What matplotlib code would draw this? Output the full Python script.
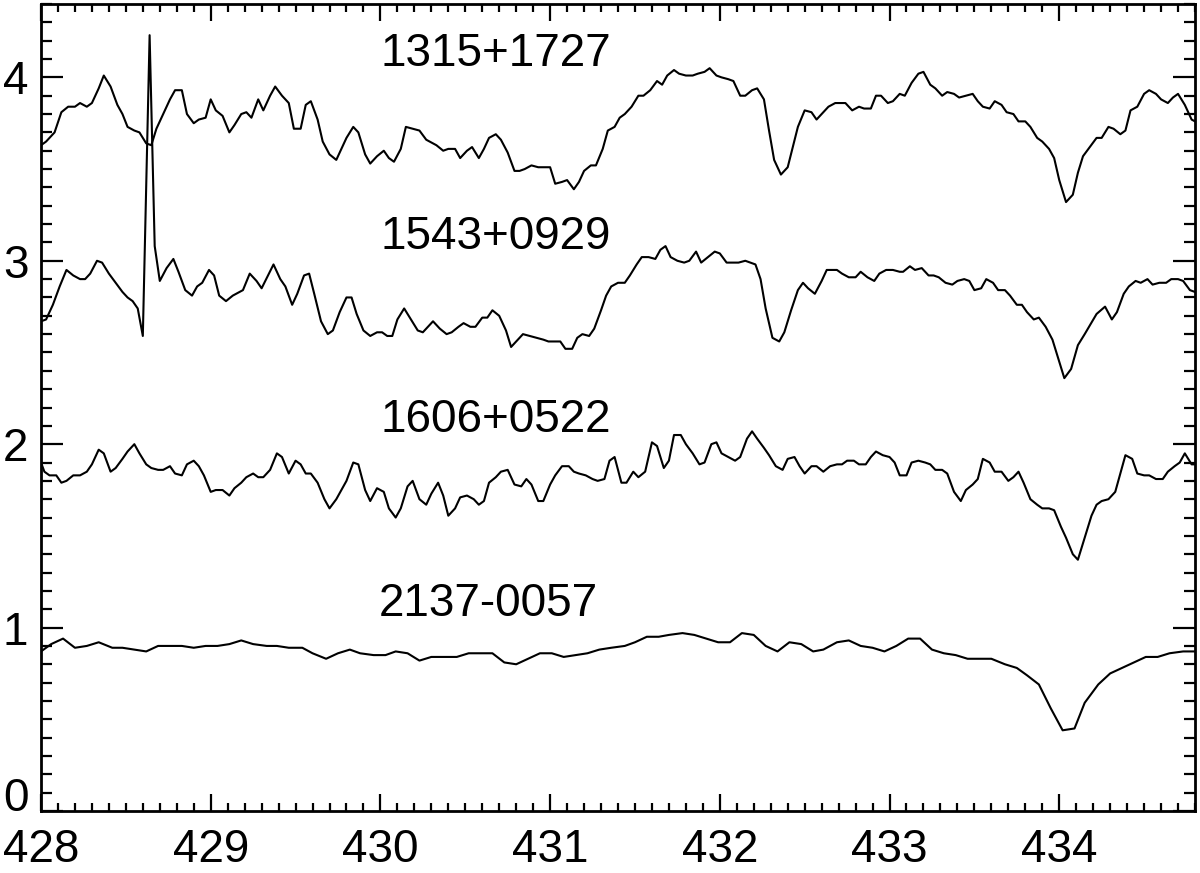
import numpy as np
import matplotlib
matplotlib.use("Agg")
import matplotlib.pyplot as plt
from matplotlib.ticker import MultipleLocator, FuncFormatter

plt.rcParams['font.family'] = ['Liberation Sans', 'DejaVu Sans']

# star names, label anchor (wavelength, flux)
names = ["1315+1727", "1543+0929", "1606+0522", "2137-0057"]
label_x = [430.0, 430.0, 430.0, 429.99]
label_y = [4.13, 3.13, 2.13, 1.13]

# 1315+1727 (offset +3)
wave_1315 = [
    428.00, 428.03, 428.08, 428.12, 428.16, 428.20, 428.23, 428.27, 428.30, 428.34,
    428.37, 428.41, 428.45, 428.48, 428.51, 428.55, 428.58, 428.62, 428.65, 428.68,
    428.72, 428.76, 428.79, 428.83, 428.86, 428.90, 428.93, 428.97, 429.00, 429.03,
    429.07, 429.11, 429.14, 429.18, 429.21, 429.24, 429.28, 429.31, 429.35, 429.38,
    429.42, 429.46, 429.49, 429.53, 429.56, 429.59, 429.63, 429.66, 429.70, 429.74,
    429.77, 429.80, 429.84, 429.87, 429.91, 429.94, 429.98, 430.02, 430.05, 430.08,
    430.12, 430.15, 430.19, 430.23, 430.27,
    430.33, 430.37, 430.40, 430.44, 430.47, 430.51, 430.54, 430.58, 430.61, 430.64,
    430.68, 430.71, 430.75, 430.79, 430.82, 430.85, 430.89, 430.93, 430.96, 431.00,
    431.03, 431.07, 431.10, 431.14, 431.17, 431.20, 431.24, 431.27, 431.31, 431.34,
    431.38, 431.41, 431.44, 431.48, 431.52, 431.55, 431.59, 431.63, 431.66, 431.69,
    431.73, 431.76, 431.80, 431.84, 431.87, 431.91, 431.94, 431.98, 432.01, 432.05,
    432.08, 432.12, 432.15, 432.19, 432.22, 432.26, 432.29, 432.32, 432.36, 432.40,
    432.43, 432.46, 432.50, 432.54,
    432.57, 432.61, 432.64, 432.68, 432.72, 432.74, 432.78, 432.82, 432.85, 432.89,
    432.92, 432.95, 432.99, 433.02, 433.06, 433.09, 433.13, 433.17, 433.20, 433.24,
    433.27, 433.31, 433.34, 433.38, 433.41, 433.45, 433.49, 433.52, 433.55, 433.59,
    433.62, 433.66, 433.69, 433.73, 433.76, 433.80, 433.83, 433.87, 433.90, 433.94,
    433.97, 434.00, 434.04, 434.08, 434.11, 434.14, 434.18, 434.22, 434.25, 434.29,
    434.32, 434.36, 434.39, 434.42, 434.46, 434.50, 434.53, 434.57, 434.60, 434.64,
    434.67, 434.70, 434.74, 434.78, 434.80]
flux_1315 = [
    3.63, 3.65, 3.70, 3.81, 3.84, 3.84, 3.86, 3.84, 3.86, 3.94,
    4.01, 3.95, 3.85, 3.80, 3.73, 3.71, 3.70, 3.64, 3.63, 3.72,
    3.80, 3.88, 3.93, 3.93, 3.80, 3.75, 3.77, 3.78, 3.88, 3.82,
    3.79, 3.70, 3.74, 3.80, 3.81, 3.78, 3.88, 3.82, 3.90, 3.95,
    3.90, 3.86, 3.72, 3.72, 3.85, 3.87, 3.77, 3.65, 3.58, 3.55,
    3.61, 3.67, 3.73, 3.70, 3.58, 3.53, 3.57, 3.60, 3.56, 3.54,
    3.61, 3.73, 3.72, 3.71, 3.66,
    3.63, 3.60, 3.61, 3.61, 3.56, 3.60, 3.62, 3.56, 3.61, 3.67,
    3.69, 3.66, 3.59, 3.49, 3.49, 3.50, 3.52, 3.51, 3.51, 3.51,
    3.42, 3.43, 3.44, 3.39, 3.43, 3.49, 3.52, 3.52, 3.61, 3.71,
    3.73, 3.78, 3.80, 3.84, 3.90, 3.90, 3.93, 3.98, 3.96, 4.01,
    4.04, 4.02, 4.01, 4.01, 4.02, 4.03, 4.05, 4.01, 4.00, 3.99,
    3.98, 3.90, 3.90, 3.93, 3.94, 3.88, 3.71, 3.55, 3.47, 3.51,
    3.62, 3.73, 3.82, 3.81,
    3.77, 3.81, 3.84, 3.86, 3.86, 3.86, 3.82, 3.84, 3.83, 3.83,
    3.90, 3.90, 3.86, 3.87, 3.91, 3.90, 3.97, 4.02, 4.03, 3.96,
    3.94, 3.90, 3.92, 3.91, 3.89, 3.90, 3.91, 3.87, 3.84, 3.83,
    3.87, 3.85, 3.81, 3.80, 3.76, 3.76, 3.73, 3.67, 3.65, 3.61,
    3.56, 3.44, 3.32, 3.36, 3.48, 3.57, 3.62, 3.67, 3.67, 3.73,
    3.72, 3.69, 3.71, 3.82, 3.84, 3.91, 3.93, 3.91, 3.88, 3.86,
    3.89, 3.91, 3.85, 3.77, 3.76]

# 1543+0929 (offset +2), with a cosmic-ray spike near 428.64
wave_1543 = [
    428.00, 428.03, 428.07, 428.11, 428.15, 428.19, 428.23, 428.26, 428.29, 428.33,
    428.36, 428.40, 428.44, 428.48, 428.51, 428.54, 428.57, 428.60, 428.64, 428.67,
    428.70, 428.74, 428.78, 428.81, 428.85, 428.89, 428.92, 428.95, 428.99, 429.02,
    429.05, 429.09, 429.13, 429.19, 429.23, 429.27, 429.30, 429.37, 429.41, 429.44,
    429.48, 429.51, 429.55, 429.58, 429.61, 429.65, 429.69, 429.72, 429.76, 429.80,
    429.83, 429.86, 429.90, 429.94, 429.98, 430.01, 430.04, 430.07, 430.10, 430.14,
    430.18, 430.22, 430.25,
    430.31, 430.35, 430.39, 430.42, 430.46, 430.49, 430.53, 430.56, 430.60, 430.63,
    430.66, 430.70, 430.74, 430.77, 430.81, 430.84, 430.88, 430.92, 430.96, 430.99,
    431.03, 431.06, 431.09, 431.13, 431.16, 431.19, 431.23, 431.26, 431.30, 431.33,
    431.36, 431.40, 431.44, 431.47, 431.51, 431.54, 431.58, 431.62, 431.65, 431.68,
    431.71, 431.75, 431.79, 431.82, 431.86, 431.89, 431.93, 431.97, 432.00, 432.04,
    432.07, 432.11, 432.15, 432.18, 432.21, 432.24, 432.27, 432.31, 432.35, 432.38,
    432.42, 432.46, 432.49, 432.52,
    432.56, 432.60, 432.63, 432.67, 432.69, 432.72, 432.76, 432.80, 432.83, 432.87,
    432.91, 432.94, 432.98, 433.02, 433.06, 433.08, 433.12, 433.15, 433.19, 433.23,
    433.26, 433.29, 433.33, 433.37, 433.40, 433.44, 433.47, 433.50, 433.54, 433.57,
    433.61, 433.64, 433.68, 433.71, 433.75, 433.78, 433.81, 433.85, 433.88, 433.92,
    433.96, 434.03, 434.07, 434.11, 434.15, 434.22, 434.27, 434.31, 434.34, 434.38,
    434.41, 434.45, 434.48, 434.52, 434.55, 434.59, 434.63, 434.66, 434.70, 434.73,
    434.77, 434.80]
flux_1543 = [
    2.67, 2.68, 2.76, 2.86, 2.95, 2.92, 2.90, 2.90, 2.93, 3.00,
    2.99, 2.93, 2.88, 2.83, 2.80, 2.78, 2.74, 2.59, 4.23, 3.08,
    2.89, 2.96, 3.01, 2.94, 2.84, 2.81, 2.86, 2.88, 2.95, 2.92,
    2.81, 2.78, 2.81, 2.84, 2.93, 2.89, 2.85, 2.98, 2.90, 2.86,
    2.76, 2.82, 2.92, 2.93, 2.82, 2.67, 2.60, 2.62, 2.72, 2.80,
    2.80, 2.71, 2.62, 2.59, 2.61, 2.61, 2.59, 2.59, 2.68, 2.74,
    2.68, 2.62, 2.61,
    2.67, 2.63, 2.60, 2.61, 2.64, 2.66, 2.64, 2.64, 2.69, 2.69,
    2.73, 2.70, 2.62, 2.53, 2.57, 2.60, 2.59, 2.58, 2.57, 2.56,
    2.56, 2.56, 2.52, 2.52, 2.58, 2.60, 2.59, 2.63, 2.73, 2.81,
    2.86, 2.88, 2.88, 2.92, 2.98, 3.02, 3.02, 3.01, 3.06, 3.08,
    3.02, 3.00, 2.99, 3.00, 3.05, 2.99, 3.02, 3.05, 3.04, 2.99,
    2.99, 2.99, 3.00, 2.99, 2.98, 2.90, 2.74, 2.58, 2.56, 2.61,
    2.73, 2.84, 2.88, 2.85,
    2.82, 2.89, 2.95, 2.95, 2.95, 2.93, 2.91, 2.91, 2.94, 2.91,
    2.89, 2.93, 2.95, 2.95, 2.94, 2.94, 2.97, 2.95, 2.96, 2.92,
    2.92, 2.91, 2.88, 2.87, 2.89, 2.90, 2.89, 2.84, 2.85, 2.90,
    2.88, 2.84, 2.84, 2.81, 2.76, 2.76, 2.72, 2.68, 2.69, 2.64,
    2.57, 2.36, 2.41, 2.54, 2.60, 2.71, 2.75, 2.68, 2.72, 2.82,
    2.86, 2.89, 2.88, 2.90, 2.87, 2.88, 2.88, 2.90, 2.90, 2.89,
    2.84, 2.83]

# 1606+0522 (offset +1)
wave_1606 = [
    428.00, 428.02, 428.05, 428.09, 428.12, 428.15, 428.19, 428.23, 428.27, 428.30,
    428.34, 428.37, 428.41, 428.44, 428.48, 428.51, 428.55, 428.58, 428.62, 428.65,
    428.69, 428.72, 428.76, 428.79, 428.83, 428.86, 428.90, 428.93, 428.96, 429.00,
    429.03, 429.07, 429.11, 429.14, 429.18, 429.21, 429.25, 429.28, 429.31, 429.35,
    429.39, 429.42, 429.46, 429.50, 429.53, 429.56, 429.59, 429.63, 429.67, 429.70,
    429.74, 429.77, 429.80, 429.84, 429.87, 429.91, 429.94, 429.98, 430.02, 430.05,
    430.09, 430.12, 430.16, 430.19, 430.23, 430.27,
    430.30, 430.34, 430.37, 430.40, 430.44, 430.47, 430.51, 430.55, 430.58, 430.61,
    430.64, 430.68, 430.71, 430.75, 430.79, 430.83, 430.86, 430.89, 430.93, 430.96,
    431.00, 431.03, 431.07, 431.11, 431.14, 431.17, 431.21, 431.25, 431.28, 431.32,
    431.35, 431.38, 431.42, 431.45, 431.49, 431.52, 431.56, 431.60, 431.63, 431.67,
    431.70, 431.73, 431.77, 431.80, 431.84, 431.88, 431.91, 431.95, 431.98, 432.01,
    432.05, 432.09, 432.12, 432.16, 432.19, 432.22, 432.26, 432.29, 432.33, 432.37,
    432.40, 432.44, 432.47, 432.50, 432.54,
    432.57, 432.61, 432.65, 432.69, 432.72, 432.75, 432.79, 432.82, 432.86, 432.89,
    432.92, 432.96, 433.00, 433.03, 433.06, 433.10, 433.13, 433.17, 433.21, 433.24,
    433.27, 433.31, 433.34, 433.38, 433.42, 433.45, 433.49, 433.52, 433.55, 433.59,
    433.62, 433.66, 433.70, 433.73, 433.76, 433.79, 433.83, 433.87, 433.90, 433.94,
    433.97, 434.01, 434.04, 434.08, 434.11, 434.15, 434.19, 434.22, 434.25, 434.29,
    434.33, 434.36, 434.39, 434.43, 434.46, 434.50, 434.53, 434.57, 434.61, 434.64,
    434.68, 434.71, 434.74, 434.78, 434.80]
flux_1606 = [
    1.90, 1.85, 1.83, 1.83, 1.79, 1.80, 1.83, 1.83, 1.85, 1.89,
    1.97, 1.95, 1.85, 1.87, 1.92, 1.96, 2.00, 1.95, 1.89, 1.87,
    1.86, 1.86, 1.88, 1.84, 1.83, 1.89, 1.91, 1.88, 1.83, 1.74,
    1.75, 1.75, 1.72, 1.76, 1.79, 1.82, 1.84, 1.82, 1.82, 1.86,
    1.95, 1.93, 1.84, 1.91, 1.89, 1.84, 1.84, 1.79, 1.70, 1.65,
    1.70, 1.75, 1.80, 1.90, 1.89, 1.75, 1.69, 1.76, 1.74, 1.65,
    1.60, 1.65, 1.77, 1.80, 1.70, 1.67,
    1.73, 1.79, 1.72, 1.61, 1.65, 1.71, 1.72, 1.70, 1.67, 1.69,
    1.79, 1.82, 1.85, 1.86, 1.78, 1.77, 1.81, 1.78, 1.69, 1.69,
    1.78, 1.83, 1.88, 1.88, 1.85, 1.84, 1.83, 1.81, 1.80, 1.81,
    1.91, 1.93, 1.79, 1.79, 1.85, 1.82, 1.85, 2.01, 1.99, 1.87,
    1.91, 2.05, 2.05, 2.00, 1.95, 1.89, 1.90, 2.00, 2.01, 1.95,
    1.93, 1.91, 1.93, 2.03, 2.07, 2.03, 1.98, 1.94, 1.88, 1.86,
    1.92, 1.93, 1.88, 1.84, 1.88,
    1.88, 1.85, 1.88, 1.89, 1.89, 1.91, 1.91, 1.89, 1.89, 1.93,
    1.96, 1.94, 1.93, 1.90, 1.83, 1.83, 1.90, 1.91, 1.90, 1.89,
    1.86, 1.86, 1.84, 1.74, 1.69, 1.75, 1.78, 1.81, 1.92, 1.90,
    1.85, 1.85, 1.80, 1.82, 1.85, 1.79, 1.70, 1.67, 1.65, 1.65,
    1.64, 1.55, 1.49, 1.40, 1.37, 1.49, 1.61, 1.67, 1.69, 1.70,
    1.74, 1.84, 1.94, 1.92, 1.84, 1.83, 1.83, 1.81, 1.81, 1.85,
    1.88, 1.90, 1.95, 1.89, 1.89]

# 2137-0057 (no offset)
wave_2137 = [
    428.00, 428.06, 428.13, 428.20, 428.27, 428.34, 428.42, 428.48, 428.55, 428.62,
    428.69, 428.76, 428.83, 428.90, 428.97, 429.04, 429.11, 429.18, 429.25, 429.33,
    429.39, 429.46, 429.54, 429.60, 429.68, 429.75, 429.82, 429.88, 429.96, 430.03,
    430.09, 430.16, 430.23,
    430.30, 430.37, 430.45, 430.52, 430.59, 430.66, 430.73, 430.80, 430.87, 430.94,
    431.01, 431.08, 431.15, 431.22, 431.29, 431.36, 431.44, 431.50, 431.57, 431.64,
    431.70, 431.78, 431.85, 431.92, 431.99, 432.06, 432.13, 432.20, 432.27, 432.34,
    432.41, 432.48, 432.55,
    432.61, 432.69, 432.76, 432.83, 432.90, 432.97, 433.04, 433.11, 433.18, 433.25,
    433.32, 433.39, 433.46, 433.53, 433.60, 433.68, 433.75, 433.81, 433.88, 433.95,
    434.02, 434.09, 434.15, 434.23, 434.30, 434.37, 434.44, 434.51, 434.58, 434.65,
    434.73, 434.80]
flux_2137 = [
    0.87, 0.91, 0.94, 0.89, 0.90, 0.92, 0.89, 0.89, 0.88, 0.87,
    0.90, 0.90, 0.90, 0.89, 0.90, 0.90, 0.91, 0.93, 0.91, 0.90,
    0.90, 0.89, 0.89, 0.86, 0.83, 0.86, 0.88, 0.86, 0.85, 0.85,
    0.87, 0.86, 0.82,
    0.84, 0.84, 0.84, 0.86, 0.86, 0.86, 0.81, 0.80, 0.83, 0.86,
    0.86, 0.84, 0.85, 0.86, 0.88, 0.89, 0.90, 0.92, 0.95, 0.95,
    0.96, 0.97, 0.96, 0.94, 0.92, 0.92, 0.97, 0.96, 0.90, 0.87,
    0.92, 0.91, 0.87,
    0.88, 0.92, 0.93, 0.90, 0.89, 0.87, 0.90, 0.94, 0.94, 0.88,
    0.86, 0.85, 0.83, 0.83, 0.83, 0.80, 0.78, 0.74, 0.69, 0.56,
    0.44, 0.45, 0.59, 0.69, 0.75, 0.78, 0.81, 0.84, 0.84, 0.86,
    0.87, 0.87]

spectra = [(wave_1315, flux_1315), (wave_1543, flux_1543),
           (wave_1606, flux_1606), (wave_2137, flux_2137)]

fig = plt.figure(figsize=(12, 8.73), dpi=100)
ax = fig.add_axes([41/1200, 62/873, 1154/1200, 807/873])

for wave, flux in spectra:
    ax.plot(wave, flux, color='black', lw=1.5)

for name, lx, ly in zip(names, label_x, label_y):
    ax.text(lx, ly, name, fontsize=33, ha='left', va='center')

ax.set_xlim(428, 434.8)
ax.set_ylim(0, 4.4)

ax.xaxis.set_major_locator(MultipleLocator(1))
ax.xaxis.set_minor_locator(MultipleLocator(0.1))
ax.yaxis.set_major_locator(MultipleLocator(1))
ax.yaxis.set_minor_locator(MultipleLocator(0.1))
# the "0" label is drawn separately, resting on the bottom axis line
ax.yaxis.set_major_formatter(FuncFormatter(lambda v, p: '' if v == 0 else '%d' % v))

for sp in ax.spines.values():
    sp.set_linewidth(2)

ax.tick_params(which='both', direction='in', top=True, right=True,
               width=1.6, labelsize=33, colors='black')
ax.tick_params(axis='x', which='major', length=12, pad=12)
ax.tick_params(axis='x', which='minor', length=6)
ax.tick_params(axis='y', which='major', length=16, pad=9)
ax.tick_params(axis='y', which='minor', length=8)

ax.annotate('0', xy=(0, 0), xycoords=('axes fraction', 'data'),
            xytext=(-9, 0), textcoords='offset points',
            ha='right', va='baseline', fontsize=33)

fig.savefig('out.png', dpi=100)
